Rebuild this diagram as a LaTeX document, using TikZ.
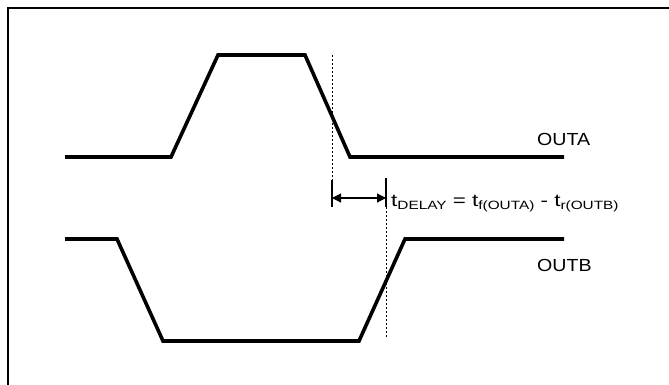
\documentclass[tikz,border=0pt]{standalone}
\usepackage{fontspec}
\setmainfont{Liberation Sans}
\newfontfamily\sigfont[FakeStretch=1.12]{Liberation Sans}
\newfontfamily\delayfont[FakeStretch=1.28]{Liberation Sans}
\usetikzlibrary{arrows.meta}

\newcommand{\tsub}[1]{t\raisebox{-3.5pt}{\fontsize{12}{12}\selectfont #1}}

\begin{document}
\begin{tikzpicture}[x=1pt, y=-1pt]
    \useasboundingbox (0,0) rectangle (669,385);
    \draw[line width=1.8pt] (8,392) -- (8,8) -- (676,8);

    % OUTA
    \coordinate (A0) at (65,157);
    \coordinate (A1) at (171,157);
    \coordinate (A2) at (218,55);
    \coordinate (A3) at (305,55);
    \coordinate (A4) at (350,157);
    \coordinate (A5) at (564,157);

    % OUTB
    \coordinate (B0) at (65,239);
    \coordinate (B1) at (117,239);
    \coordinate (B2) at (163,341);
    \coordinate (B3) at (359,341);
    \coordinate (B4) at (405,239);
    \coordinate (B5) at (564,239);

    % delay markers
    \coordinate (D1) at (332,55);
    \coordinate (T1) at (332,180);
    \coordinate (U1) at (332,207);
    \coordinate (T2) at (386,178);
    \coordinate (U2) at (386,207);
    \coordinate (D2) at (386,338);
    \coordinate (L1) at (332,198);
    \coordinate (L2) at (386,198);

    \draw[line width=3.6pt] (A0) -- (A1) -- (A2) -- (A3) -- (A4) -- (A5);
    \draw[line width=3.6pt] (B0) -- (B1) -- (B2) -- (B3) -- (B4) -- (B5);

    \draw[line width=0.8pt, dash pattern=on 2pt off 2pt] (D1) -- (T1);
    \draw[line width=0.8pt, dash pattern=on 2pt off 2pt] (U2) -- (D2);
    \draw[line width=1.2pt] (T1) -- (U1);
    \draw[line width=1.2pt] (T2) -- (U2);
    \draw[line width=1.2pt, {Triangle[length=9pt,width=9pt]}-{Triangle[length=9pt,width=9pt]}] (L1) -- (L2);

    \node[anchor=base west, inner sep=0pt] at (537,146) {\sigfont\fontsize{17.5}{17.5}\selectfont OUTA};
    \node[anchor=base west, inner sep=0pt] at (537,271) {\sigfont\fontsize{17.5}{17.5}\selectfont OUTB};
    \node[anchor=base west, inner sep=0pt] at (391,206) {\delayfont\fontsize{17.5}{17.5}\selectfont \tsub{DELAY} = \tsub{f(OUTA)} - \tsub{r(OUTB)}};
\end{tikzpicture}
\end{document}
